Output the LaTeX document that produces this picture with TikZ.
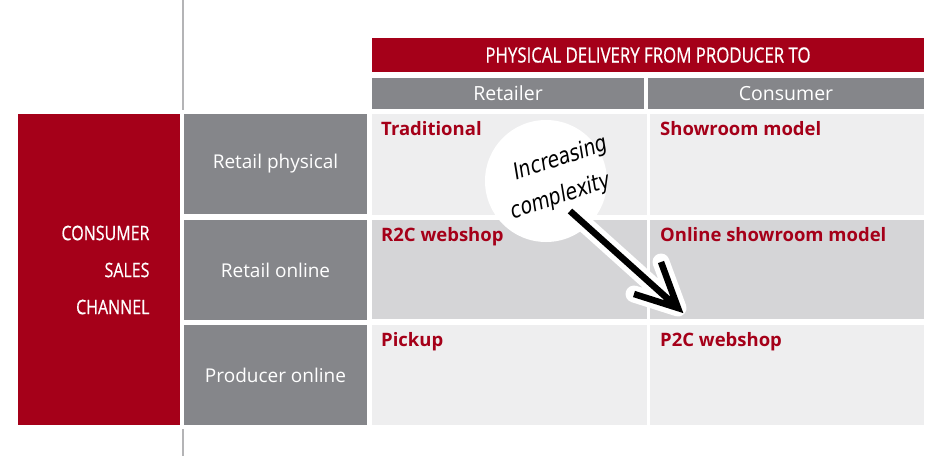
\documentclass[tikz,border=0pt]{standalone}
\usepackage{fontspec}
\setmainfont{Open Sans}
\newfontfamily\condfont[FakeStretch=0.8, FakeBold=0.6]{Open Sans}
\newfontfamily\handfont[FakeStretch=0.82, FakeSlant=0.15]{DejaVu Sans}
\definecolor{darkred}{HTML}{A50019}
\definecolor{headgray}{HTML}{85868A}
\definecolor{lightcell}{HTML}{EEEEEF}
\definecolor{midcell}{HTML}{D5D5D7}
\definecolor{rulegray}{HTML}{B4B4B6}
\tikzset{
	box/.style={anchor=north west, inner sep=0pt, outer sep=0pt},
	colhead/.style={box, fill=headgray, text=white, minimum width=272pt, minimum height=31pt, font=\fontsize{19.5}{22}\selectfont},
	rowhead/.style={box, fill=headgray, text=white, minimum width=183pt, minimum height=100pt, font=\fontsize{19}{22}\selectfont},
	cell/.style={box, minimum width=274pt, minimum height=100pt},
	celltext/.style={anchor=north west, inner sep=0pt, text=darkred, font=\bfseries\fontsize{18.5}{20}\selectfont}
}
\begin{document}
\begin{tikzpicture}[x=1pt, y=-1pt]
	\useasboundingbox (0,0) rectangle (945,456);
	
	% separator
	\coordinate (topA) at (183,0);
	\coordinate (topB) at (183,110);
	\coordinate (botA) at (183,429);
	\coordinate (botB) at (183,456);
	\draw[rulegray, line width=2pt] (topA) -- (topB);
	\draw[rulegray, line width=2pt] (botA) -- (botB);
	
	% column headers
	\node[box, fill=darkred, text=white, minimum width=552pt, minimum height=34pt, font=\condfont\fontsize{21}{24}\selectfont] (delivery) at (372,38) {PHYSICAL DELIVERY FROM PRODUCER TO};
	\node[colhead] (retailer) at (372,78) {Retailer};
	\node[colhead, minimum width=276pt] (consumer) at (648,78) {Consumer};
	
	% row headers
	\node[box, fill=darkred, minimum width=162pt, minimum height=311pt] (channel) at (18,114) {};
	\node[anchor=east, align=right, text=white, font=\condfont\fontsize{20}{37}\selectfont] (channeltext) at (153,270) {CONSUMER\\SALES\\CHANNEL};
	\node[rowhead] (physical) at (184,114) {Retail physical};
	\node[rowhead] (online) at (184,220) {Retail online};
	\node[rowhead] (producer) at (184,325) {Producer online};
	
	% cells
	\node[cell, fill=lightcell, minimum width=275pt, minimum height=101pt] (c11) at (372,114) {};
	\node[cell, fill=lightcell, minimum height=101pt] (c12) at (650,114) {};
	\node[cell, fill=midcell, minimum width=275pt, minimum height=99pt] (c21) at (372,220) {};
	\node[cell, fill=midcell, minimum height=99pt] (c22) at (650,220) {};
	\node[cell, fill=lightcell, minimum width=275pt] (c31) at (372,325) {};
	\node[cell, fill=lightcell] (c32) at (650,325) {};
	\node[celltext] (traditional) at (381,121) {Traditional};
	\node[celltext] (showroom) at (660,121) {Showroom model};
	\node[celltext] (r2c) at (381,227) {R2C webshop};
	\node[celltext] (onlineshow) at (660,227) {Online showroom model};
	\node[celltext] (pickup) at (381,332) {Pickup};
	\node[celltext] (p2c) at (660,332) {P2C webshop};
	
	% complexity arrow
	\node[circle, fill=white, minimum size=122pt] (bubble) at (546,181) {};
	\node[rotate=18, font=\handfont\fontsize{23}{26}\selectfont] (increasing) at (560,159) {Increasing};
	\node[rotate=18, font=\handfont\fontsize{23}{26}\selectfont] (complexity) at (560,197) {complexity};
	\coordinate (tail) at (570,211);
	\coordinate (tip) at (678,308);
	\coordinate (wingA) at (661,262);
	\coordinate (wingB) at (634,294);
	\draw[white, line width=17pt, line cap=round, line join=round] (tail) -- (tip) (wingA) -- (tip) -- (wingB);
	\draw[black, line width=6.5pt, line join=miter] (tail) -- (tip) (wingA) -- (tip) -- (wingB);
\end{tikzpicture}
\end{document}
